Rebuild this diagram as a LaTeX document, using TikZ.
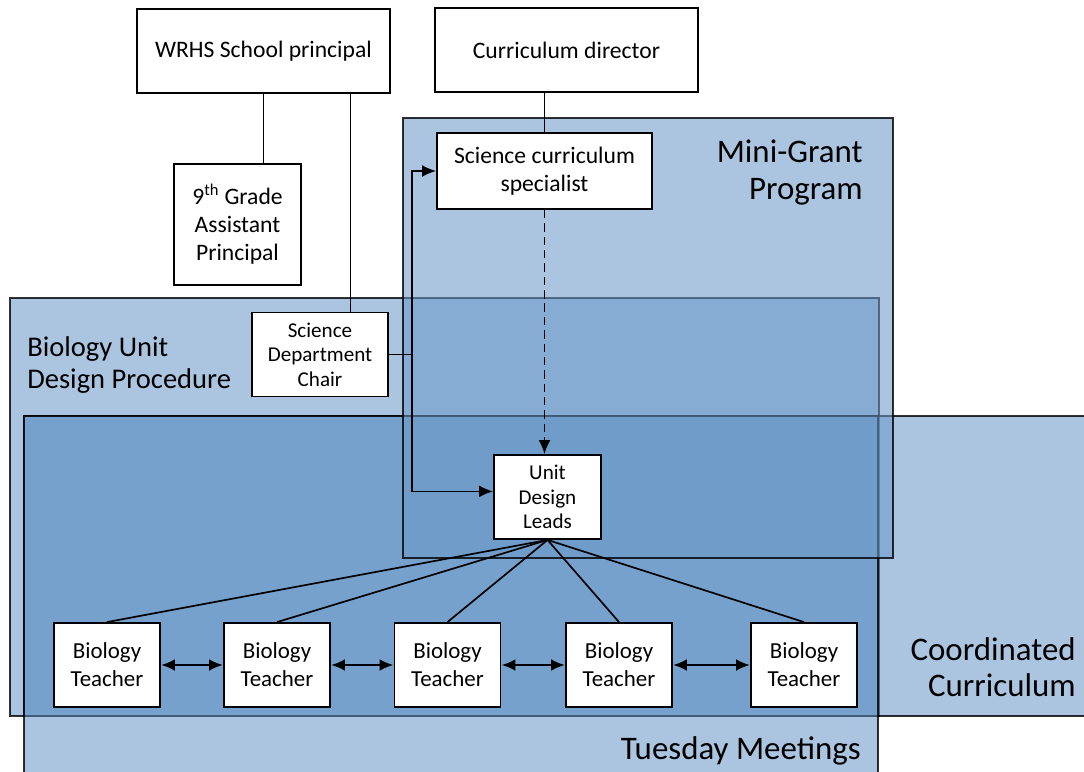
\documentclass[tikz,border=0pt]{standalone}
\usepackage{fontspec}
\setmainfont{Carlito}
\usetikzlibrary{arrows.meta}
\definecolor{zoneblue}{RGB}{106,152,200}

\begin{document}
\begin{tikzpicture}[x=0.025cm, y=-0.025cm,
		>={Latex[length=10pt,width=8.5pt]},
		zone/.style={fill=zoneblue, fill opacity=0.56, draw=black, draw opacity=0.8, line width=1.5pt},
		zonelabel/.style={inner sep=0pt, font=\fontsize{23.4}{26}\selectfont},
		box/.style={draw, fill=white, line width=1.3pt, align=center, inner sep=0pt, font=\fontsize{16.8}{20}\selectfont},
		smallbox/.style={box, font=\fontsize{15}{17.5}\selectfont},
		teacher/.style={box, minimum width=2.65cm, minimum height=2.1cm, font=\fontsize{16.3}{20}\selectfont},
		link/.style={line width=1.2pt}]
			
			\useasboundingbox (0,0) rectangle (1084,771);
			\clip (0,0) rectangle (1084,771);
			
			% overlapping areas
			\draw[zone] (10,298) rectangle (879,716);
			\draw[zone] (24,416) rectangle (1100,716);
			\draw[zone] (24,416) rectangle (878,790);
			\draw[zone] (403,118) rectangle (893,558);
			
			% area titles
			\node[zonelabel, align=right, anchor=north east] (minilabel) at (863,140) {Mini-Grant\\Program};
			\node[zonelabel, align=left, anchor=north west, font=\fontsize{20.3}{23}\selectfont] (biolabel) at (27,336) {Biology Unit\\Design Procedure};
			\node[zonelabel, align=right, anchor=north east] (coordlabel) at (1076,637) {Coordinated\\Curriculum};
			\node[zonelabel, anchor=north east] (tueslabel) at (861,736) {Tuesday Meetings};
			
			% people
			\node[box, minimum width=6.325cm, minimum height=2.1cm] (principal) at (263.5,51) {WRHS School principal};
			\node[box, minimum width=6.575cm, minimum height=2.1cm] (director) at (566.5,50) {Curriculum director};
			\node[box, minimum width=3.175cm, minimum height=3.025cm] (ap) at (237.5,224.5) {9\textsuperscript{th} Grade\\Assistant\\Principal};
			\node[box, minimum width=5.375cm, minimum height=1.9cm] (spec) at (544.5,171) {Science curriculum\\specialist};
			\node[smallbox, minimum width=3.4cm, minimum height=2.1cm] (chair) at (320,354.5) {Science\\Department\\Chair};
			\node[smallbox, minimum width=2.675cm, minimum height=2.1cm] (udl) at (547.5,497) {Unit\\Design\\Leads};
			\foreach \x [count=\i] in {107,277,447.5,619,804}
				\node[teacher] (t\i) at (\x,665) {Biology\\Teacher};
			
			% reporting lines
			\draw[link] (principal.south) -- (principal.south |- ap.north);
			\path (principal.south) ++(87,0) coordinate (tap);
			\draw[link] (tap) -- (tap |- chair.north);
			\draw[link] (spec.north) -- (spec.north |- director.south);
			\draw[link, dash pattern=on 6pt off 3.5pt, ->] (spec.south) -- (spec.south |- udl.north);
			
			% chair splits to specialist and leads
			\coordinate (split) at (412,354.5);
			\draw[link] (chair.east) -- (split);
			\draw[link, ->] (split) |- (spec.west);
			\draw[link, ->] (split) |- ([yshift=4pt]udl.west);
			
			% leads to teachers
			\foreach \i in {1,...,5}
				\draw[link] (udl.south) -- (t\i.north);
			\foreach \a/\b in {1/2,2/3,3/4,4/5}
				\draw[<->, line width=1.8pt] (t\a) -- (t\b);
			
		\end{tikzpicture}
\end{document}
